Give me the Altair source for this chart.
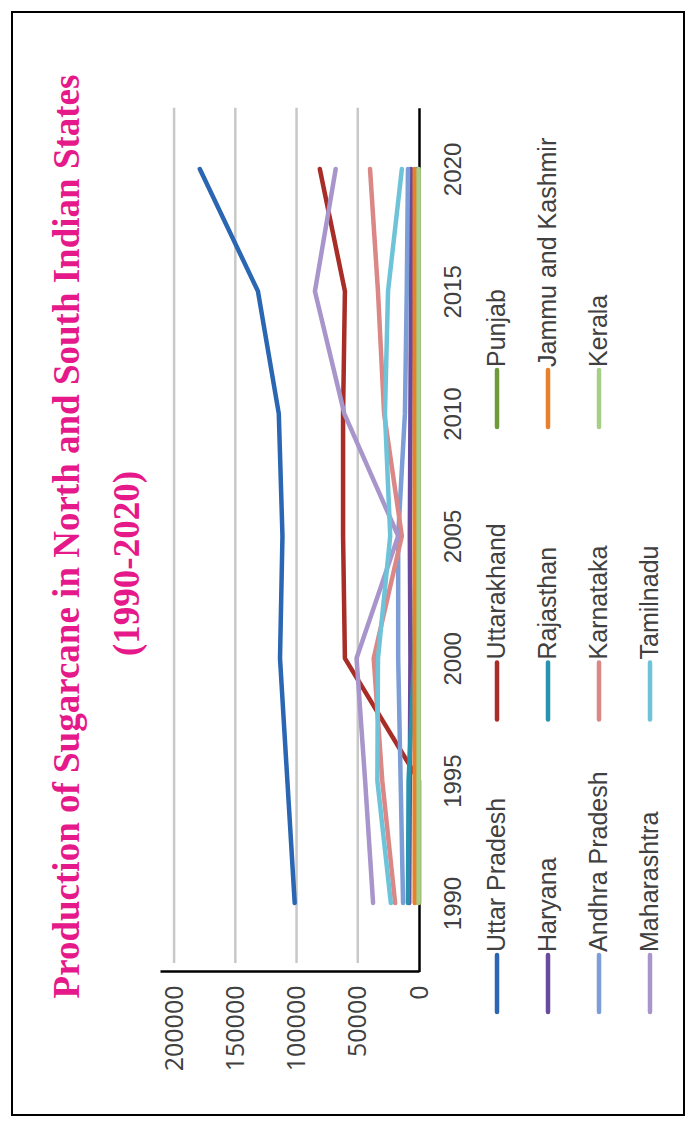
import altair as alt
import pandas as pd

years = [1990, 1995, 2000, 2005, 2010, 2015, 2020]
states = ["Uttar Pradesh", "Uttarakhand", "Punjab", "Haryana", "Rajasthan",
          "Jammu and Kashmir", "Andhra Pradesh", "Karnataka", "Kerala",
          "Maharashtra", "Tamilnadu"]

uttar_pradesh = [101500, 107500, 113500, 111500, 114500, 131500, 179000]
uttarakhand = [0, 0, 60500, 62000, 62000, 60500, 81000]
punjab = [600, 600, 600, 600, 600, 600, 600]
haryana = [8000, 7500, 7000, 7500, 7000, 6500, 6500]
rajasthan = [9000, 8500, 4000, 2500, 2000, 1500, 1500]
jammu_kashmir = [3500, 3500, 3500, 3500, 3500, 3500, 3500]
andhra_pradesh = [13000, 15000, 17000, 17000, 11500, 10000, 9000]
karnataka = [19500, 30000, 37000, 14000, 28500, 33500, 40000]
kerala = [300, 300, 300, 300, 300, 300, 300]
maharashtra = [37500, 44000, 51000, 17000, 61000, 85000, 68000]
tamilnadu = [23000, 34000, 33500, 23500, 27800, 25300, 14000]

colors = ["#2A66B1", "#A82D27", "#6E9B3A", "#6A4A9C", "#2893AE", "#E8812C",
          "#7C9DD6", "#DB8785", "#A7CE86", "#A795CB", "#6EC3D8"]

value_ticks = [0, 50000, 100000, 150000, 200000]
grid_ticks = [50000, 100000, 150000, 200000]
year_ticks = [1990, 1995, 2000, 2005, 2010, 2015, 2020]

title_line1 = "Production of Sugarcane in North and South Indian States"
title_line2 = "(1990-2020)"

series = [uttar_pradesh, uttarakhand, punjab, haryana, rajasthan, jammu_kashmir,
          andhra_pradesh, karnataka, kerala, maharashtra, tamilnadu]

rows = []
for s, vals in zip(states, series):
    for yr, v in zip(years, vals):
        rows.append({"state": s, "year": yr, "value": v})
df = pd.DataFrame(rows)

grid_df = pd.DataFrame({"value": grid_ticks})

legend_df = pd.DataFrame({
    "state": states,
    "col": [i // 3 for i in range(len(states))],
    "grp": [i % 3 for i in range(len(states))],
})

color_scale = alt.Scale(domain=states, range=colors)
label_color = "#404040"

x_scale = alt.Scale(domain=[0, 211500], range=[407, 148], nice=False, zero=False)
y_scale = alt.Scale(domain=[1987.2, 2022.5], range=[959.5, 95.8], nice=False, zero=False)

x_axis = alt.Axis(values=value_ticks, orient="bottom", offset=-144, grid=False,
                  domainColor="black", domainWidth=2.5, ticks=False,
                  labelAngle=270, labelAlign="right", labelBaseline="middle",
                  labelPadding=14, labelFont="Open Sans", labelFontSize=25,
                  labelColor=label_color, title=None, format="d")
y_axis = alt.Axis(values=year_ticks, orient="right", offset=-265, grid=False,
                  domainColor="black", domainWidth=2.5, ticks=False,
                  labelAngle=270, labelAlign="center", labelBaseline="top",
                  labelPadding=22, labelFont="Liberation Sans", labelFontSize=24,
                  labelColor=label_color, format="d", title=None)

grid = alt.Chart(grid_df).mark_rule(color="#C8C8C8", strokeWidth=2.5).encode(
    x=alt.X("value:Q", scale=x_scale, axis=x_axis),
    y=alt.datum(2022.5, scale=y_scale, axis=y_axis),
    y2=alt.datum(1987.55),
)

lines = alt.Chart(df).mark_line(strokeWidth=4.5, strokeCap="round", strokeJoin="round").encode(
    x=alt.X("value:Q", scale=x_scale, axis=x_axis),
    y=alt.Y("year:Q", scale=y_scale, axis=y_axis),
    color=alt.Color("state:N", scale=color_scale, legend=None),
    order=alt.Order("year:Q"),
)

main = alt.layer(grid, lines)

leg_x = alt.X("col:Q", scale=alt.Scale(domain=[0, 3], range=[485, 638], nice=False, zero=False), axis=None)
leg_y = alt.Y("grp:Q", scale=alt.Scale(domain=[0, 2], range=[943, 358], nice=False, zero=False), axis=None)

leg_base = alt.Chart(legend_df).transform_calculate(g2="datum.grp - 0.195")
leg_rules = leg_base.mark_rule(strokeWidth=4.5, strokeCap="round").encode(
    x=leg_x, y=leg_y, y2="g2:Q",
    color=alt.Color("state:N", scale=color_scale, legend=None),
)
leg_text = leg_base.mark_text(angle=270, align="left", baseline="middle", dx=3,
                              font="Liberation Sans", fontSize=25, color=label_color).encode(
    x=leg_x, y=leg_y, text="state:N",
)
legend_layer = alt.layer(leg_rules, leg_text)

chart = alt.layer(main, legend_layer).resolve_scale(
    x="independent", y="independent"
).properties(
    width=672, height=1103,
    padding={"left": 12, "top": 12, "right": 12, "bottom": 12},
    autosize=alt.AutoSizeParams(type="none"),
    title=alt.TitleParams(text=["\u2800\u2800" + title_line1, title_line2], orient="left",
                          anchor="middle", offset=-135, font="Liberation Serif", fontSize=37,
                          fontWeight="bold", color="#E6198A", lineHeight=60),
).configure_view(stroke="black", strokeWidth=2)

chart.save("out.html", embed_options={"renderer": "svg", "actions": False})
